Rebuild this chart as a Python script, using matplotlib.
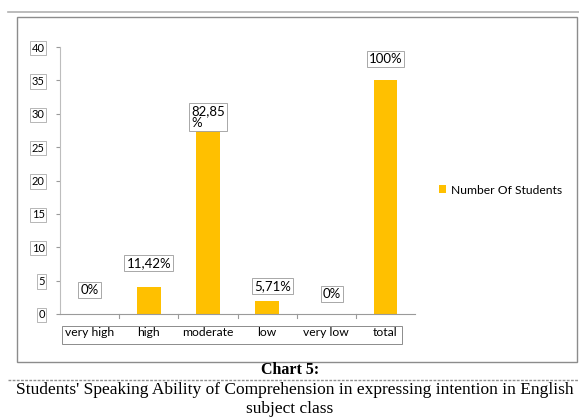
import matplotlib.pyplot as plt
from matplotlib.lines import Line2D
from matplotlib.patches import Rectangle

# 数据
categories = ['very high', 'high', 'moderate', 'low', 'very low', 'total']
students = [0, 4, 29, 2, 0, 35]
percent_labels = ['0%', '11,42%', '82,85\n%', '5,71%', '0%', '100%']

# 标签偏移(点)
label_offsets = [(0, 13), (0, 13), (0, -6), (4, 6), (4, 10), (0, 11)]

bar_color = '#FFC000'
box_style = dict(boxstyle='square,pad=0.15', fc='white', ec='#9a9a9a', lw=0.6)

fig = plt.figure(figsize=(5.79, 4.18), dpi=100)
fig.patch.set_facecolor('white')
W, H = 579, 418


def fx(px):
    return px / W


def fy(py):
    return 1 - py / H


# 外框和分隔线
fig.add_artist(Line2D([fx(8), fx(579)], [fy(12), fy(12)], color='#b0b0b0', lw=1.2))
fig.add_artist(Rectangle((fx(17), fy(362)), fx(577) - fx(17), fy(17) - fy(362),
                         fill=False, ec='#8c8c8c', lw=1.0))
fig.add_artist(Line2D([fx(8), fx(579)], [fy(380), fy(380)], color='#909090', lw=1.0, ls=(0, (2, 1))))

ax = fig.add_axes([fx(60), fy(314), fx(415) - fx(60), fy(47) - fy(314)])
x = range(len(categories))
ax.bar(x, students, width=0.4, color=bar_color, label='Number Of Students')
ax.set_xlim(-0.5, len(categories) - 0.5)
ax.set_ylim(0, 40)
ax.set_yticks(range(0, 41, 5))

for s in ['top', 'right']:
    ax.spines[s].set_visible(False)
ax.spines['left'].set_color('#bdbdbd')
ax.spines['bottom'].set_color('#9a9a9a')
ax.tick_params(axis='y', length=3, color='#9a9a9a', labelsize=8, pad=8)
ax.tick_params(axis='x', length=0, labelsize=8.7, pad=9)
for lab in ax.get_yticklabels():
    lab.set_fontfamily('Lato')
    lab.set_bbox(dict(boxstyle='square,pad=0.15', fc='white', ec='#9a9a9a', lw=0.5))

# x轴刻度在类别之间
ax.set_xticks(x)
ax.set_xticklabels(categories, fontfamily='Lato')
for b in range(len(categories) - 1):
    ax.plot([b + 0.5, b + 0.5], [0, -0.6], color='#9a9a9a', lw=0.8, clip_on=False)

# x轴标签外框
fig.add_artist(Rectangle((fx(62), fy(344)), fx(402) - fx(62), fy(326) - fy(344),
                         fill=False, ec='#8c8c8c', lw=0.7))

# 百分比标签
for i, (v, t) in enumerate(zip(students, percent_labels)):
    ax.annotate(t, (i, v), xytext=label_offsets[i], textcoords='offset points',
                ha='center', va='bottom', fontsize=9.5, fontfamily='Lato',
                multialignment='left', linespacing=1.0, bbox=box_style)

ax.legend(loc='center left', bbox_to_anchor=(fx(428), fy(190)), bbox_transform=fig.transFigure,
          frameon=False, handlelength=0.6, handleheight=0.6, handletextpad=0.4,
          prop={'family': 'Lato', 'size': 8.7})

# 图表标题
fig.text(fx(290), fy(370), 'Chart 5:', ha='center', va='center', fontsize=11.5,
         fontweight='bold', fontfamily='Liberation Serif')
fig.text(fx(16), fy(390), "Students' Speaking Ability of Comprehension in expressing intention in English",
         ha='left', va='center', fontsize=12.5, fontfamily='Liberation Serif')
fig.text(fx(290), fy(409), 'subject class', ha='center', va='center', fontsize=12.5,
         fontfamily='Liberation Serif')

fig.savefig('out.png', dpi=100)
